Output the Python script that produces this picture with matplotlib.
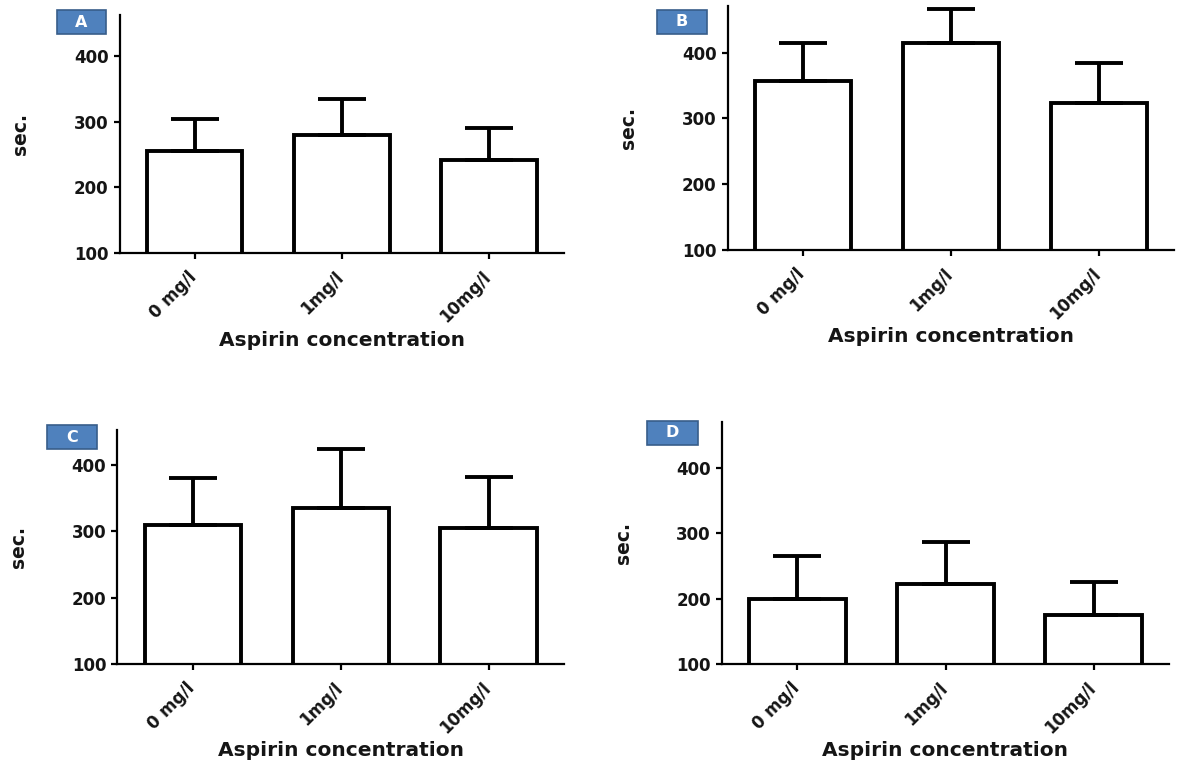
import numpy as np
import matplotlib
matplotlib.use("Agg")
import matplotlib.pyplot as plt
import matplotlib.transforms as mtransforms
from matplotlib.patches import Rectangle

# concentrations tested
categories = ["0 mg/l", "1mg/l", "10mg/l"]

# mean time (sec.) and upper SD for each panel
mean_a = [255, 280, 242]
sd_a = [49, 54, 48]
mean_b = [357, 414, 323]
sd_b = [57, 53, 61]
mean_c = [309, 336, 305]
sd_c = [71, 89, 77]
mean_d = [199, 222, 175]
sd_d = [66, 65, 50]

yticks = [100, 200, 300, 400]

W, H = 1183, 767
plt.rcParams["font.family"] = "DejaVu Sans"
plt.rcParams["font.weight"] = "bold"

fig = plt.figure(figsize=(W / 100, H / 100), dpi=100)

# panel geometry in pixels: left, right, top, bottom, y max, label box
panels = [
    ("A", mean_a, sd_a, 119.6, 564, 15, 253, 462, (56.7, 10, 49.3, 24.3)),
    ("B", mean_b, sd_b, 727.5, 1174, 6, 250, 471, (656.7, 10, 50, 24)),
    ("C", mean_c, sd_c, 117.3, 564, 430, 664, 453, (46.7, 425, 50, 24)),
    ("D", mean_d, sd_d, 722, 1169, 422, 664, 470, (646.5, 421, 51, 24)),
]

x = np.arange(len(categories))
txt = "#151515"
# rotated category labels hang just below each tick
shift = mtransforms.ScaledTranslation(-7 / 100, -15 / 100, fig.dpi_scale_trans)

for letter, means, sds, left, right, top, bottom, ymax, box in panels:
    w_px = right - left
    h_px = bottom - top
    ax = fig.add_axes([left / W, 1 - bottom / H, w_px / W, h_px / H])
    ax.bar(x, means, width=0.65, color="white", edgecolor="black",
           linewidth=2.8, zorder=2)
    ax.errorbar(x, means, yerr=[np.zeros(len(sds)), sds], fmt="none",
                ecolor="black", elinewidth=2.8, capsize=17, capthick=2.8,
                zorder=3)
    ax.set_xlim(-0.51, 2.51)
    ax.set_ylim(100, ymax)
    ax.set_yticks(yticks)
    ax.set_xticks(x)
    ax.set_xticklabels([])
    for xi, cat in zip(x, categories):
        ax.text(xi, 0, cat, transform=ax.get_xaxis_transform() + shift,
                rotation=45, ha="right", va="top", rotation_mode="anchor",
                fontsize=12, fontweight="bold", color=txt)
    for lab in ax.get_yticklabels():
        lab.set_fontsize(12)
        lab.set_fontweight("bold")
        lab.set_color(txt)
    for s in ["top", "right"]:
        ax.spines[s].set_visible(False)
    for s in ["left", "bottom"]:
        ax.spines[s].set_linewidth(1.6)
    ax.tick_params(axis="both", width=1.6, length=4.5, color="black")
    ax.tick_params(axis="y", pad=3.5)

    ax.set_ylabel("sec.", fontsize=13.5, fontweight="bold", color=txt)
    ax.yaxis.set_label_coords(-99 / w_px, 0.5)
    ax.yaxis.label.set_va("center")
    ax.set_xlabel("Aspirin concentration", fontsize=14.5, fontweight="bold",
                  color=txt)
    ax.xaxis.set_label_coords(0.5, -87 / h_px)
    ax.xaxis.label.set_va("center")

    # panel letter badge
    bx, by, bw, bh = box
    fig.add_artist(Rectangle((bx / W, 1 - (by + bh) / H), bw / W, bh / H,
                             transform=fig.transFigure, facecolor="#4f81bd",
                             edgecolor="#385d8a", linewidth=1.2))
    fig.text((bx + bw / 2) / W, 1 - (by + bh / 2) / H, letter,
             ha="center", va="center", color="white", fontsize=11.5,
             fontweight="bold")

fig.savefig("out.png", dpi=100)
